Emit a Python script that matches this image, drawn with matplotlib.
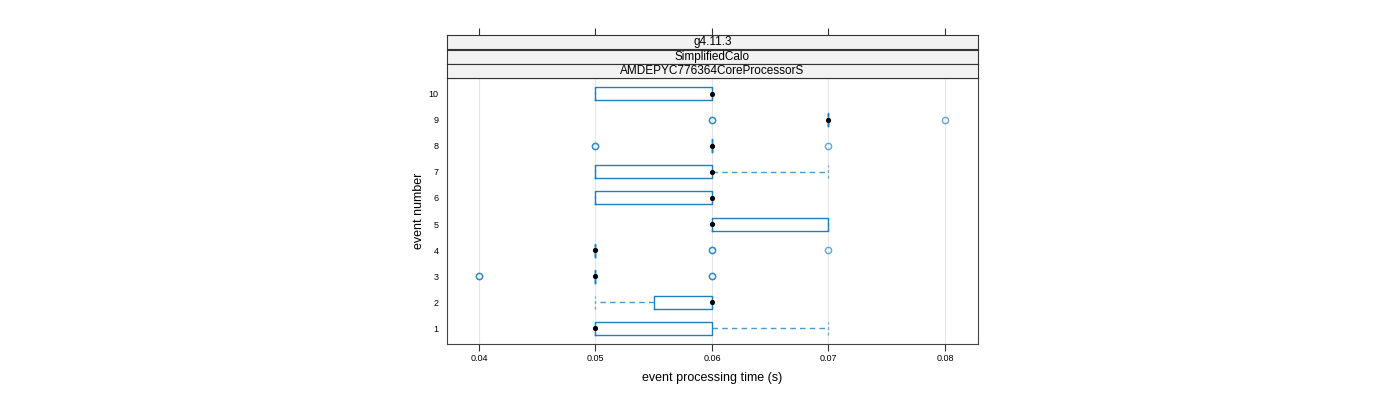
import matplotlib
matplotlib.use("Agg")
import matplotlib.pyplot as plt
import numpy as np

plt.rcParams['font.family'] = ['Liberation Sans', 'DejaVu Sans']

events = [1, 2, 3, 4, 5, 6, 7, 8, 9, 10]
q1 = [0.05, 0.055, 0.05, 0.05, 0.06, 0.05, 0.05, 0.06, 0.07, 0.05]
med = [0.05, 0.06, 0.05, 0.05, 0.06, 0.06, 0.06, 0.06, 0.07, 0.06]
q3 = [0.06, 0.06, 0.05, 0.05, 0.07, 0.06, 0.06, 0.06, 0.07, 0.06]
whislo = [0.05, 0.05, 0.05, 0.05, 0.06, 0.05, 0.05, 0.06, 0.07, 0.05]
whishi = [0.07, 0.06, 0.05, 0.05, 0.07, 0.06, 0.07, 0.06, 0.07, 0.06]
fliers = [[], [], [0.04, 0.04, 0.06, 0.06], [0.06, 0.06, 0.07], [], [], [],
          [0.05, 0.05, 0.07], [0.06, 0.06, 0.08], []]
xticks = [0.04, 0.05, 0.06, 0.07, 0.08]
strips = ["g4.11.3", "SimplifiedCalo", "AMDEPYC776364CoreProcessorS"]

blue = "#1f80bf"

fig = plt.figure(figsize=(14, 4), dpi=100)
W, H = 1400, 400
px0, px1, py0, py1 = 447, 978, 78, 344
ax = fig.add_axes([px0 / W, 1 - py1 / H, (px1 - px0) / W, (py1 - py0) / H])

stats = []
for i in range(len(events)):
    stats.append(dict(med=med[i], q1=q1[i], q3=q3[i], whislo=whislo[i],
                      whishi=whishi[i], fliers=fliers[i], label=str(events[i])))

ax.bxp(stats, positions=events, orientation='horizontal', widths=0.5,
       showfliers=True, patch_artist=False,
       boxprops=dict(color=blue, linewidth=1.0),
       whiskerprops=dict(color=blue, linewidth=1.0, linestyle=(0, (4, 3)), alpha=0.8),
       capprops=dict(color=blue, linewidth=1.0, linestyle=(0, (2, 2)), alpha=0.6),
       medianprops=dict(linewidth=0),
       flierprops=dict(marker='o', markersize=4.5, markerfacecolor='none',
                       markeredgecolor=blue, markeredgewidth=1.0, alpha=0.7),
       capwidths=0.5)
ax.scatter(med, events, s=14, color='black', zorder=5, linewidths=0)

ax.set_xlim(0.03726, 0.08283)
ax.set_ylim(0.385, 10.615)
ax.set_xticks(xticks)
ax.set_xticklabels([f"{t:.2f}" for t in xticks], fontsize=6.5)
ax.set_yticks(events)
ax.set_yticklabels([str(e) for e in events], fontsize=6.5)
ax.tick_params(axis='y', length=0, pad=6)
ax.tick_params(axis='x', length=5, width=0.8, color='#333333', pad=2)
for x in xticks:
    ax.axvline(x, color='#e6e6e6', linewidth=0.8, zorder=0)
for s in ax.spines.values():
    s.set_color('#444444')
    s.set_linewidth(0.8)
ax.set_xlabel("event processing time (s)", fontsize=9, labelpad=7)
ax.set_ylabel("event number", fontsize=9, labelpad=3)

# strips
strip_tops = [35, 49.5, 64]
sh = 14.3
for j, txt in enumerate(strips):
    y0 = strip_tops[j]
    sax = fig.add_axes([px0 / W, 1 - (y0 + sh) / H, (px1 - px0) / W, sh / H])
    sax.set_facecolor('#f2f2f2')
    sax.set_xlim(ax.get_xlim())
    sax.set_ylim(0, 1)
    sax.set_yticks([])
    for s in sax.spines.values():
        s.set_color('#333333')
        s.set_linewidth(0.8)
    if j == 0:
        sax.xaxis.tick_top()
        sax.set_xticks(xticks)
        sax.set_xticklabels([])
        sax.tick_params(axis='x', length=5, width=0.8, color='#333333')
    else:
        sax.set_xticks([])
    sax.text(0.5, 0.5, txt, transform=sax.transAxes, ha='center', va='center',
             fontsize=8.5)

fig.savefig("out.png", dpi=100)
